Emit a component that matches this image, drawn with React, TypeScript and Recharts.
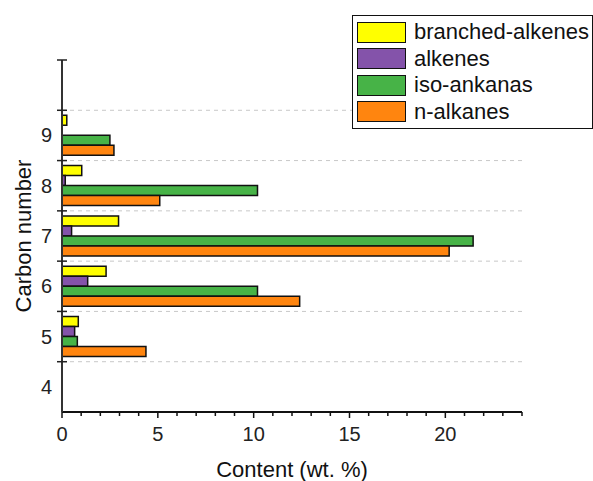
import React from "react";
import { BarChart, Bar, XAxis, YAxis, CartesianGrid } from "recharts";

const categories = ["4", "5", "6", "7", "8", "9", ""];
const branchedAlkenes = [null, 0.85, 2.3, 2.95, 1.03, 0.25, null];
const alkenes = [null, 0.66, 1.34, 0.5, 0.17, 0, null];
const isoAnkanas = [null, 0.8, 10.2, 21.45, 10.2, 2.5, null];
const nAlkanes = [null, 4.38, 12.4, 20.2, 5.1, 2.71, null];

const seriesNames = ["branched-alkenes", "alkenes", "iso-ankanas", "n-alkanes"];
const seriesColors = ["#FFFF00", "#8453AA", "#47B347", "#FF850F"];
const xMax = 24;
const xAllTicks = Array.from({ length: xMax + 1 }, (_, i) => i);

const data = categories.map((c, i) => ({
  cat: c,
  b: branchedAlkenes[i],
  a: alkenes[i],
  iso: isoAnkanas[i],
  n: nAlkanes[i],
}));

const W = 593;
const H = 481;
const M = { top: 60, right: 71, left: 0, bottom: 0 };
const YW = 62;
const XH = 69;
const PLOT_H = H - M.top - XH;
const AXIS_X = M.left + YW;
const AXIS_Y = M.top + PLOT_H;
const BAND = PLOT_H / categories.length;
const FONT = "'Liberation Sans', Arial, sans-serif";

const YTick = (props: any) => {
  const { y, payload } = props;
  return (
    <g>
      <text x={AXIS_X - 10} y={y} dy={7} textAnchor="end" fontSize={20} fill="#222" fontFamily={FONT}>
        {payload.value}
      </text>
      <line x1={AXIS_X - 5} x2={AXIS_X + 5} y1={y - BAND / 2} y2={y - BAND / 2} stroke="#222" strokeWidth={1.5} />
    </g>
  );
};

const XTick = (props: any) => {
  const { x, payload } = props;
  const major = payload.value % 5 === 0;
  return (
    <g>
      <line x1={x} x2={x} y1={AXIS_Y} y2={AXIS_Y + (major ? 6 : 4)} stroke="#111" strokeWidth={1.5} />
      {major && (
        <text x={x} y={AXIS_Y + 29} textAnchor="middle" fontSize={20} fill="#222" fontFamily={FONT}>
          {payload.value}
        </text>
      )}
    </g>
  );
};

const LegendBox = () => (
  <div
    style={{
      position: "absolute",
      top: 15,
      left: 352,
      border: "1.5px solid #111",
      background: "#fff",
      width: 241,
      padding: "3px 0 3px 4px",
      boxSizing: "border-box",
      fontFamily: FONT,
      overflow: "hidden",
    }}
  >
    {seriesNames.map((name, i) => (
      <div key={name} style={{ display: "flex", alignItems: "center", height: 26.5 }}>
        <div
          style={{
            width: 49,
            height: 21,
            flexShrink: 0,
            background: seriesColors[i],
            border: "1.5px solid #111",
            boxSizing: "border-box",
          }}
        />
        <span style={{ marginLeft: 8, fontSize: 22, color: "#111", whiteSpace: "nowrap" }}>{name}</span>
      </div>
    ))}
  </div>
);

export default function App() {
  return (
    <div style={{ position: "absolute", left: 0, top: 0, width: W, height: H, background: "#fff" }}>
      <BarChart
        width={W}
        height={H}
        data={data}
        layout="vertical"
        margin={M}
        barCategoryGap="10%"
        barGap={0}
      >
        <CartesianGrid
          vertical={false}
          stroke="#c8c8c8"
          strokeDasharray="4 4"
          horizontalCoordinatesGenerator={({ offset }: any) =>
            categories.slice(1).map((_, i) => offset.top + (i + 1) * (offset.height / categories.length))
          }
        />
        <XAxis
          type="number"
          domain={[0, xMax]}
          ticks={xAllTicks}
          interval={0}
          height={XH}
          tickLine={false}
          axisLine={{ stroke: "#111", strokeWidth: 2 }}
          tick={<XTick />}
          label={{
            content: () => (
              <text x={AXIS_X + (W - M.right - AXIS_X) / 2} y={477} textAnchor="middle" fontSize={22} fill="#111" fontFamily={FONT}>
                Content (wt. %)
              </text>
            ),
          }}
        />
        <YAxis
          type="category"
          dataKey="cat"
          reversed
          width={YW}
          interval={0}
          tickLine={false}
          axisLine={{ stroke: "#333", strokeWidth: 2 }}
          tick={<YTick />}
          label={{
            content: () => (
              <text
                x={31}
                y={M.top + PLOT_H / 2}
                transform={`rotate(-90, 31, ${M.top + PLOT_H / 2})`}
                textAnchor="middle"
                fontSize={22}
                fill="#111"
                fontFamily={FONT}
              >
                Carbon number
              </text>
            ),
          }}
        />
        <Bar dataKey="b" name={seriesNames[0]} fill={seriesColors[0]} stroke="#111" strokeWidth={1.5} isAnimationActive={false} />
        <Bar dataKey="a" name={seriesNames[1]} fill={seriesColors[1]} stroke="#111" strokeWidth={1.5} isAnimationActive={false} />
        <Bar dataKey="iso" name={seriesNames[2]} fill={seriesColors[2]} stroke="#111" strokeWidth={1.5} isAnimationActive={false} />
        <Bar dataKey="n" name={seriesNames[3]} fill={seriesColors[3]} stroke="#111" strokeWidth={1.5} isAnimationActive={false} />
      </BarChart>
      <LegendBox />
    </div>
  );
}
